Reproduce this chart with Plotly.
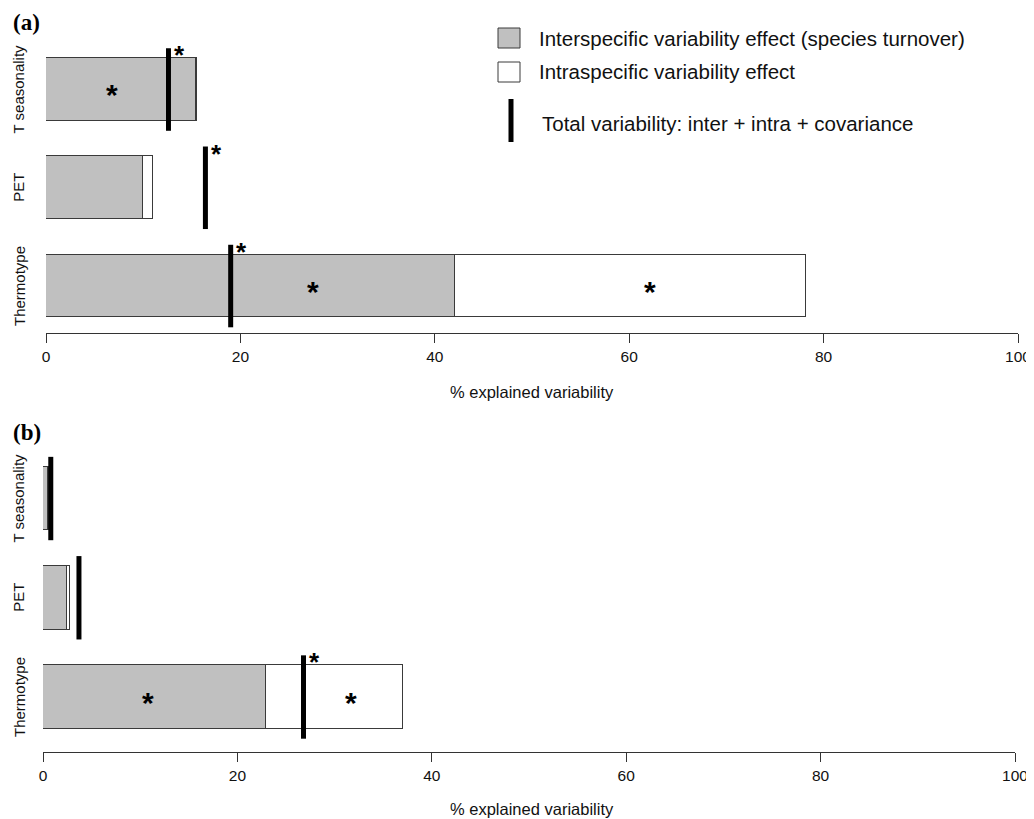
import plotly.graph_objects as go

# ---------------- data ----------------
categories = ["T seasonality", "PET", "Thermotype"]

# panel (a)
a_inter = [15.4, 10.0, 42.1]
a_intra = [0.15, 1.0, 36.1]
a_total = [12.6, 16.4, 19.0]
# star markers: bar stars (category, x position) and total-line stars (category)
a_bar_stars = [("T seasonality", 6.8), ("Thermotype", 27.5), ("Thermotype", 62.1)]
a_total_stars = ["T seasonality", "PET", "Thermotype"]

# panel (b)
b_inter = [0.5, 2.5, 22.9]
b_intra = [0.1, 0.3, 14.1]
b_total = [0.8, 3.7, 26.8]
b_bar_stars = [("Thermotype", 10.8), ("Thermotype", 31.7)]
b_total_stars = ["Thermotype"]

x_ticks = [0, 20, 40, 60, 80, 100]
x_title = "% explained variability"
legend_labels = [
    "Interspecific variability effect (species turnover)",
    "Intraspecific variability effect",
    "Total variability: inter + intra + covariance",
]

# ---------------- styling ----------------
OFF = 8  # page body margin
W, H = 1034 - OFF, 819 - OFF
FONT = "Liberation Sans, Arial, sans-serif"
GREY = "#c0c0c0"
EDGE = "#3a3a3a"
BAR_W = 0.64
LINE_HALF = 0.42


def px_x(p):
    return (p - OFF) / W


def px_y(p):
    return 1 - (p - OFF) / H


n = len(categories)
pos = {c: n - 1 - i for i, c in enumerate(categories)}
ypos = [pos[c] for c in categories]

fig = go.Figure()

panels = [
    dict(inter=a_inter, intra=a_intra, total=a_total, bstars=a_bar_stars,
         tstars=a_total_stars, xa="x", ya="y", xr="x", yr="y",
         xdom=[px_x(46), px_x(1018)], ydom=[px_y(333), px_y(40)],
         yrange=[-0.478, 2.504], title_y=392, label="(a)", label_y=22,
         lab_x=19),
    dict(inter=b_inter, intra=b_intra, total=b_total, bstars=b_bar_stars,
         tstars=b_total_stars, xa="x2", ya="y2", xr="x2", yr="y2",
         xdom=[px_x(43), px_x(1015)], ydom=[px_y(752), px_y(450)],
         yrange=[-0.554, 2.489], title_y=809, label="(b)", label_y=432,
         lab_x=19),
]

annotations = []
for p in panels:
    fig.add_trace(go.Bar(
        x=p["inter"], y=ypos, orientation="h", width=BAR_W,
        marker=dict(color=GREY, line=dict(color=EDGE, width=1)),
        xaxis=p["xa"], yaxis=p["ya"], showlegend=False, hoverinfo="x"))
    fig.add_trace(go.Bar(
        x=p["intra"], y=ypos, orientation="h", width=BAR_W,
        marker=dict(color="white", line=dict(color=EDGE, width=1)),
        xaxis=p["xa"], yaxis=p["ya"], showlegend=False, hoverinfo="x"))
    lx, ly = [], []
    for t, yy in zip(p["total"], ypos):
        lx += [t, t, None]
        ly += [yy - LINE_HALF, yy + LINE_HALF, None]
    fig.add_trace(go.Scatter(
        x=lx, y=ly, mode="lines", line=dict(color="black", width=5),
        xaxis=p["xa"], yaxis=p["ya"], showlegend=False, hoverinfo="skip"))

    # stars inside bars
    for c, sx in p["bstars"]:
        annotations.append(dict(
            x=sx, y=pos[c], xref=p["xr"], yref=p["yr"], text="<b>*</b>",
            xanchor="center", yanchor="middle",
            showarrow=False, font=dict(family=FONT, size=30, color="black"),
            yshift=-5))
    # stars at total-line tops
    for c in p["tstars"]:
        i = categories.index(c)
        annotations.append(dict(
            x=p["total"][i], y=pos[c] + LINE_HALF, xref=p["xr"], yref=p["yr"],
            text="<b>*</b>", showarrow=False, xanchor="center", yanchor="middle",
            font=dict(family=FONT, size=26, color="black"),
            xshift=11, yshift=-7))
    # category labels (rotated)
    for c in categories:
        annotations.append(dict(
            x=px_x(p["lab_x"]), y=pos[c], xref="paper", yref=p["yr"],
            xanchor="center", yanchor="middle",
            text=c, textangle=-90, showarrow=False,
            font=dict(family=FONT, size=15, color="#111")))
    # axis title
    annotations.append(dict(
        x=px_x(532), y=px_y(p["title_y"]),
        xref="paper", yref="paper", xanchor="center", yanchor="middle",
        text=x_title, showarrow=False,
        font=dict(family=FONT, size=16.5, color="#111")))
    # panel label
    annotations.append(dict(
        x=px_x(11), y=px_y(p["label_y"]), xref="paper", yref="paper",
        xanchor="left", yanchor="middle",
        text="<b>" + p["label"] + "</b>", showarrow=False,
        font=dict(family="Liberation Serif, Times New Roman, serif", size=23,
                  color="black")))

# legend (manual)
shapes = []
leg_items = [(GREY, 38), ("white", 72)]
for col, cy in leg_items:
    shapes.append(dict(type="rect", xref="paper", yref="paper",
                       x0=px_x(498), x1=px_x(520), y0=px_y(cy + 10), y1=px_y(cy - 10),
                       fillcolor=col, line=dict(color=EDGE, width=1)))
shapes.append(dict(type="line", xref="paper", yref="paper",
                   x0=px_x(511), x1=px_x(511), y0=px_y(99), y1=px_y(142),
                   line=dict(color="black", width=5)))
for txt, cy, lx0 in [(legend_labels[0], 38, 537), (legend_labels[1], 72, 537),
                     (legend_labels[2], 123, 540)]:
    annotations.append(dict(x=px_x(lx0), y=px_y(cy), xref="paper", yref="paper",
                            xanchor="left", yanchor="middle", text=txt,
                            showarrow=False,
                            font=dict(family=FONT, size=20.5, color="#111")))

axis_common = dict(range=[0, 100], tickvals=x_ticks, ticks="outside", ticklen=9,
                   tickcolor="#333", showline=True, linecolor="#333", linewidth=1,
                   showgrid=False, zeroline=False, automargin=False,
                   ticklabeloverflow="allow",
                   tickfont=dict(family=FONT, size=15.5, color="#111"))
yaxis_common = dict(showticklabels=False, showgrid=False, zeroline=False,
                    showline=False, ticks="", automargin=False)

fig.update_layout(
    width=W, height=H, margin=dict(l=0, r=0, t=0, b=0, autoexpand=False),
    paper_bgcolor="white", plot_bgcolor="white", barmode="stack",
    bargap=0, showlegend=False,
    xaxis=dict(domain=panels[0]["xdom"], anchor="y", **axis_common),
    yaxis=dict(domain=panels[0]["ydom"], range=panels[0]["yrange"], anchor="x",
               **yaxis_common),
    xaxis2=dict(domain=panels[1]["xdom"], anchor="y2", **axis_common),
    yaxis2=dict(domain=panels[1]["ydom"], range=panels[1]["yrange"], anchor="x2",
                **yaxis_common),
    annotations=annotations, shapes=shapes,
)

fig.write_html("out.html")
